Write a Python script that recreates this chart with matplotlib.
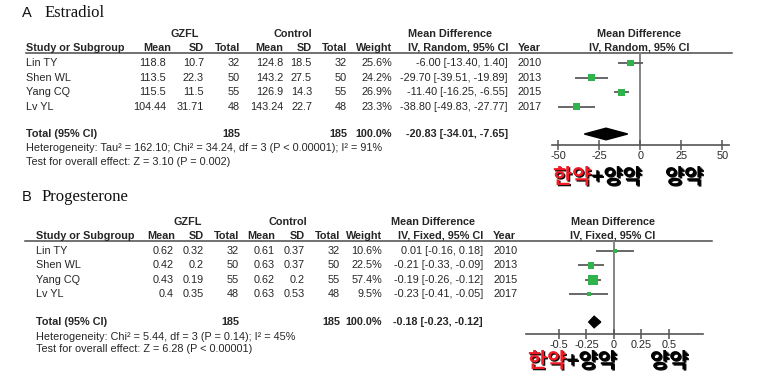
import matplotlib.pyplot as plt
import matplotlib.patheffects as pe
import numpy as np

plt.rcParams['font.family'] = ['Liberation Sans', 'DejaVu Sans']

# data
studies = ['Lin TY', 'Shen WL', 'Yang CQ', 'Lv YL']
years = ['2010', '2013', '2015', '2017']

e2_gz_mean = ['118.8', '113.5', '115.5', '104.44']
e2_gz_sd = ['10.7', '22.3', '11.5', '31.71']
e2_gz_n = [32, 50, 55, 48]
e2_ct_mean = ['124.8', '143.2', '126.9', '143.24']
e2_ct_sd = ['18.5', '27.5', '14.3', '22.7']
e2_ct_n = [32, 50, 55, 48]
e2_weight = [25.6, 24.2, 26.9, 23.3]
e2_md = [-6.00, -29.70, -11.40, -38.80]
e2_lo = [-13.40, -39.51, -16.25, -49.83]
e2_hi = [1.40, -19.89, -6.55, -27.77]
e2_total = [-20.83, -34.01, -7.65]

p_gz_mean = ['0.62', '0.42', '0.43', '0.4']
p_gz_sd = ['0.32', '0.2', '0.19', '0.35']
p_gz_n = [32, 50, 55, 48]
p_ct_mean = ['0.61', '0.63', '0.62', '0.63']
p_ct_sd = ['0.37', '0.37', '0.2', '0.53']
p_ct_n = [32, 50, 55, 48]
p_weight = [10.6, 22.5, 57.4, 9.5]
p_md = [0.01, -0.21, -0.19, -0.23]
p_lo = [-0.16, -0.33, -0.26, -0.41]
p_hi = [0.18, -0.09, -0.12, -0.05]
p_total = [-0.18, -0.23, -0.12]

e2_ticks = [-50, -25, 0, 25, 50]
p_ticks = [-0.5, -0.25, 0, 0.25, 0.5]

W, H = 771, 376
fig = plt.figure(figsize=(W / 100, H / 100), dpi=100)
ax = fig.add_axes([0, 0, 1, 1])
ax.set_xlim(0, W)
ax.set_ylim(H, 0)
ax.axis('off')

txt = '#262626'
fs = 7.8
green = '#2fb34a'
kfont = ['Noto Sans CJK KR']
shadow = [pe.SimplePatchShadow(offset=(0.9, -0.9), shadow_rgbFace='black', alpha=0.95), pe.Normal()]


def fmt_ci(v, d):
    return f'{v[0]:.{d}f} [{v[1]:.{d}f}, {v[2]:.{d}f}]'


def panel(letter, name, name_x, top, cols, model, data):
    gm, gs, gn, cm, cs, cn, wt, md, lo, hi, tot = data
    ytitle, yh1, yh2, yline, y0, dy, ytot = top
    xl = cols['left']
    # title
    ax.text(22, ytitle, letter, fontsize=10.5, color='#111', va='center')
    ax.text(name_x, ytitle, name, fontsize=12, color='#111', va='center',
            family='Liberation Serif')
    # header
    ax.text(cols['gz_c'], yh1, 'GZFL', fontsize=fs, weight='bold', color=txt, ha='center', va='center')
    ax.text(cols['ct_c'], yh1, 'Control', fontsize=fs, weight='bold', color=txt, ha='center', va='center')
    ax.text(cols['md_c'], yh1, 'Mean Difference', fontsize=fs, weight='bold', color=txt, ha='center', va='center')
    ax.text(cols['pl_c'], yh1, 'Mean Difference', fontsize=fs, weight='bold', color=txt, ha='center', va='center')
    ax.text(xl, yh2, 'Study or Subgroup', fontsize=fs, weight='bold', color=txt, va='center')
    hdr = [('Mean', cols['gm_h']), ('SD', cols['gs']), ('Total', cols['gn']),
           ('Mean', cols['cm']), ('SD', cols['cs']), ('Total', cols['cn']),
           ('Weight', cols['wt']), (f'IV, {model}, 95% CI', cols['ci'])]
    for s, x in hdr:
        ax.text(x, yh2, s, fontsize=fs, weight='bold', color=txt, ha='right', va='center')
    ax.text(cols['yr'], yh2, 'Year', fontsize=fs, weight='bold', color=txt, va='center')
    ax.text(cols['pl_c'], yh2, f'IV, {model}, 95% CI', fontsize=fs, weight='bold', color=txt,
            ha='center', va='center')
    ax.plot([cols['line0'], cols['line1']], [yline, yline], color='#4a4a4a', lw=1.1)
    # rows
    for i in range(len(studies)):
        y = y0 + i * dy
        ax.text(xl, y, studies[i], fontsize=fs, color=txt, va='center')
        row = [(gm[i], cols['gm']), (gs[i], cols['gs']), (str(gn[i]), cols['gn']),
               (cm[i], cols['cm']), (cs[i], cols['cs']), (str(cn[i]), cols['cn']),
               (f'{wt[i]:.1f}%', cols['wt']), (fmt_ci([md[i], lo[i], hi[i]], 2), cols['ci'])]
        for s, x in row:
            ax.text(x, y, s, fontsize=fs, color=txt, ha='right', va='center')
        ax.text(cols['yr'], y, years[i], fontsize=fs, color=txt, va='center')
    # total row
    ax.text(xl, ytot, 'Total (95% CI)', fontsize=fs, weight='bold', color=txt, va='center')
    for s, x in [(str(sum(gn)), cols['gn']), (str(sum(cn)), cols['cn']),
                 ('100.0%', cols['wt']), (fmt_ci(tot, 2), cols['ci'])]:
        ax.text(x, ytot, s, fontsize=fs, weight='bold', color=txt, ha='right', va='center')


def forest(x0, x1, ytop, ybot, y0, dy, ytot, xlim, ticks, ticklabels, md, lo, hi, wt, tot):
    f = fig.add_axes([x0 / W, 1 - ybot / H, (x1 - x0) / W, (ybot - ytop) / H])
    f.patch.set_alpha(0)
    top = -(y0 - ytop) / dy
    bot = (ybot - y0) / dy
    f.set_xlim(*xlim)
    f.set_ylim(bot, top)
    for s in ['top', 'left', 'right']:
        f.spines[s].set_visible(False)
    f.spines['bottom'].set_color('#555555')
    f.spines['bottom'].set_linewidth(1.2)
    f.set_yticks([])
    f.set_xticks(ticks)
    f.set_xticklabels(ticklabels, fontsize=fs, color=txt)
    f.tick_params(axis='x', direction='inout', length=7, width=1.1, color='#555555', pad=1)
    f.axvline(0, color='#858585', lw=1.4, zorder=1)
    rows = np.arange(len(md))
    f.hlines(rows, lo, hi, color='#5c5c5c', lw=1.3, zorder=2)
    sizes = (1.38 * np.sqrt(np.array(wt)) * 0.72) ** 2
    f.scatter(md, rows, s=sizes, marker='s', color=green, edgecolors='none', zorder=3)
    ry = (ytot - y0) / dy
    h = 0.4
    f.fill([tot[1], tot[0], tot[2], tot[0]], [ry, ry - h, ry, ry + h], color='black', zorder=3)
    return f


def korean(x, y, x2):
    t1 = ax.text(x, y, '한약', fontsize=15, weight='black', color='#f01b24',
                 family=kfont, va='center', path_effects=shadow)
    ax.annotate('+양약', xy=(1, 0.5), xycoords=t1, va='center', fontsize=15, weight='black',
                color='black', family=kfont, path_effects=shadow)
    ax.text(x2, y, '양약', fontsize=15, weight='black', color='black', family=kfont,
            va='center', path_effects=shadow)


# Panel A
cols_a = dict(left=26, gz_c=185, ct_c=293, md_c=450, pl_c=639, gm_h=171, gm=166, gs=204, gn=240,
              cm=283, cs=312, cn=347, wt=392, ci=508, yr=518, line0=26, line1=732)
panel('A', 'Estradiol', 45, (13, 34, 48, 53, 63, 14.6, 134), cols_a, 'Random',
      (e2_gz_mean, e2_gz_sd, e2_gz_n, e2_ct_mean, e2_ct_sd, e2_ct_n, e2_weight,
       e2_md, e2_lo, e2_hi, e2_total))
ax.text(26, 148, 'Heterogeneity: Tau\u00b2 = 162.10; Chi\u00b2 = 34.24, df = 3 (P < 0.00001); I\u00b2 = 91%',
        fontsize=fs, color=txt, va='center')
ax.text(26, 162, 'Test for overall effect: Z = 3.10 (P = 0.002)', fontsize=fs, color=txt, va='center')
forest(552, 729, 53, 145, 63, 14.6, 134, (-53.7, 54.0), e2_ticks,
       [str(t) for t in e2_ticks], e2_md, e2_lo, e2_hi, e2_weight, e2_total)
korean(553, 177, 665)

# Panel B
cols_b = dict(left=36, gz_c=188, ct_c=288, md_c=433, pl_c=613, gm_h=175, gm=174, gs=204, gn=239,
              cm=275, cs=305, cn=340, wt=382, ci=483, yr=493, line0=25, line1=712)
panel('B', 'Progesterone', 42, (197, 222, 236, 241, 251, 14.4, 322), cols_b, 'Fixed',
      (p_gz_mean, p_gz_sd, p_gz_n, p_ct_mean, p_ct_sd, p_ct_n, p_weight,
       p_md, p_lo, p_hi, p_total))
ax.text(36, 337, 'Heterogeneity: Chi\u00b2 = 5.44, df = 3 (P = 0.14); I\u00b2 = 45%',
        fontsize=fs, color=txt, va='center')
ax.text(36, 349, 'Test for overall effect: Z = 6.28 (P < 0.00001)', fontsize=fs, color=txt, va='center')
forest(526, 703, 241, 334, 251, 14.4, 322, (-0.8, 0.81), p_ticks,
       ['-0.5', '-0.25', '0', '0.25', '0.5'], p_md, p_lo, p_hi, p_weight, p_total)
korean(528, 361, 650)

fig.savefig('out.png', dpi=100)
